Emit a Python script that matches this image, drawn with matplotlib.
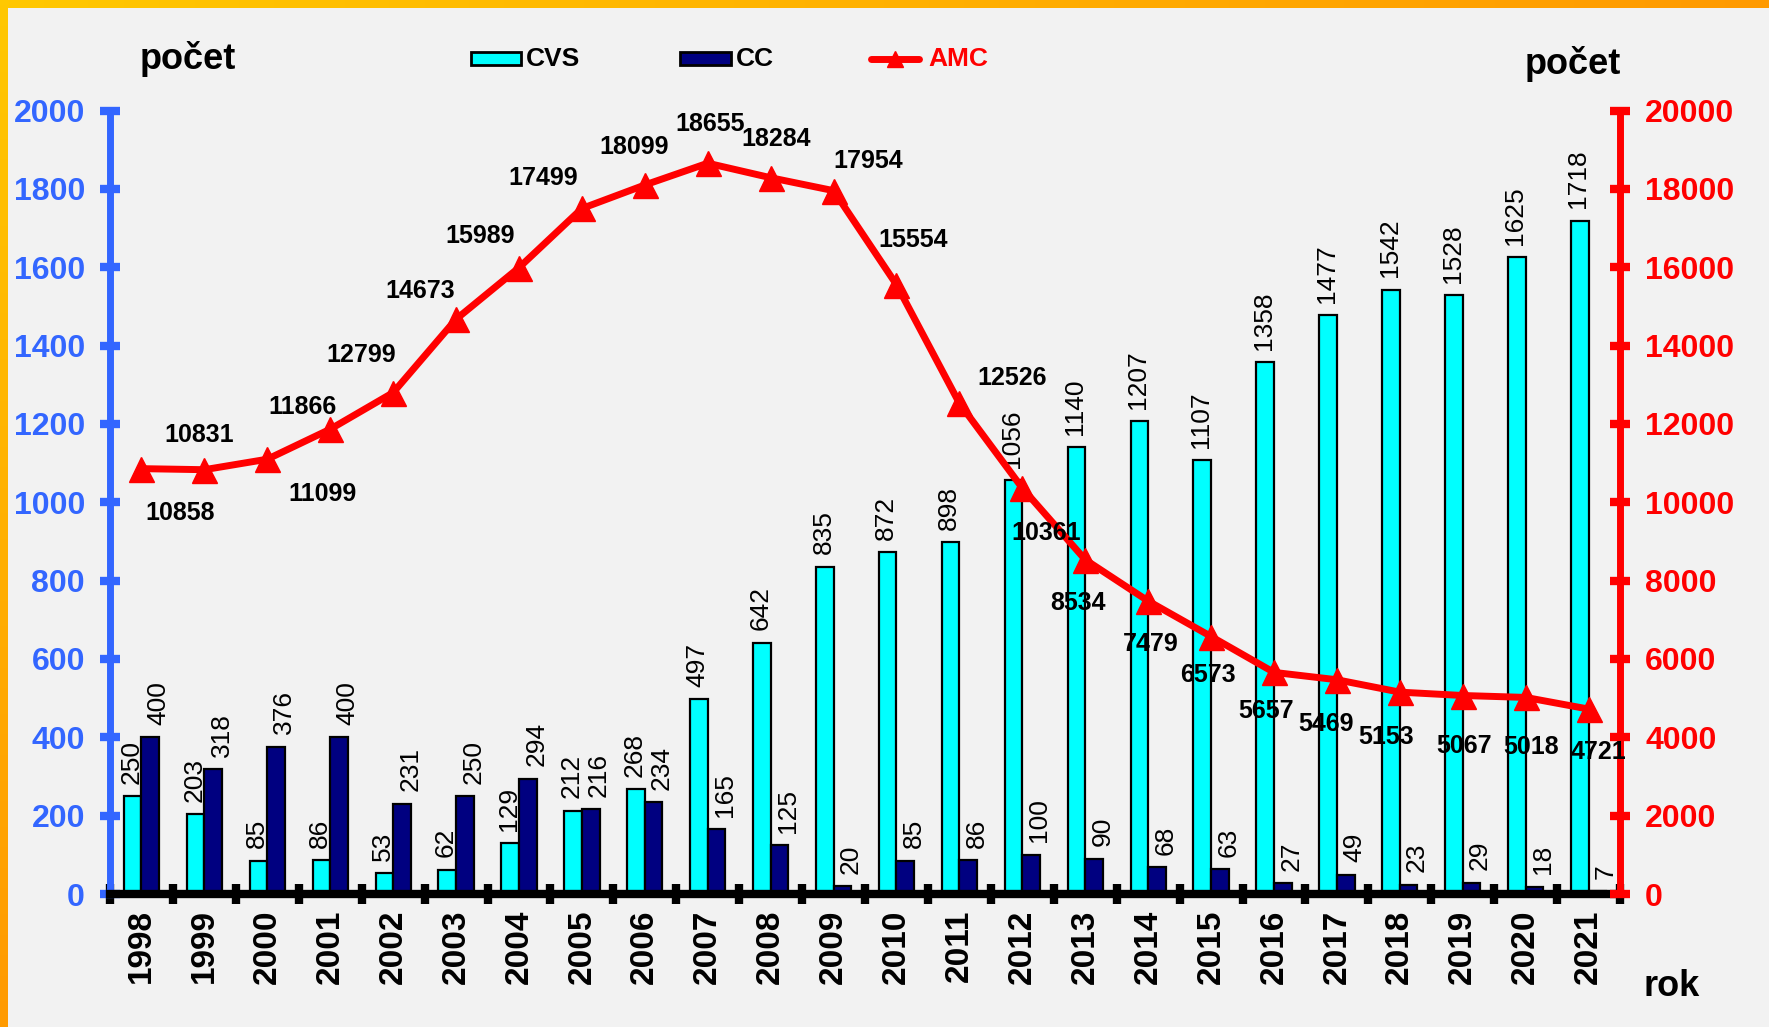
import numpy as np
import matplotlib
matplotlib.use("Agg")
import matplotlib.pyplot as plt
from matplotlib.patches import Rectangle
from matplotlib.lines import Line2D

plt.rcParams['font.family'] = ['Liberation Sans', 'DejaVu Sans']

# data
roky = [str(r) for r in range(1998, 2022)]
cvs = [250, 203, 85, 86, 53, 62, 129, 212, 268, 497, 642, 835, 872, 898,
       1056, 1140, 1207, 1107, 1358, 1477, 1542, 1528, 1625, 1718]
cc = [400, 318, 376, 400, 231, 250, 294, 216, 234, 165, 125, 20, 85, 86,
      100, 90, 68, 63, 27, 49, 23, 29, 18, 7]
amc = [10858, 10831, 11099, 11866, 12799, 14673, 15989, 17499, 18099, 18655,
       18284, 17954, 15554, 12526, 10361, 8534, 7479, 6573, 5657, 5469,
       5153, 5067, 5018, 4721]

# label offsets for AMC (points)
amc_off = [(28, -32), (-4, 25), (40, -25), (-20, 16), (-23, 27), (-26, 20),
           (-28, 23), (-28, 22), (-8, 27), (2, 28), (4, 28), (25, 21),
           (12, 32), (38, 18), (17, -32), (-5, -31), (2, -31), (-2, -28),
           (-6, -28), (-8, -32), (-10, -32), (1, -36), (4, -36), (7, -31)]

modra = '#3366FF'
cervena = '#FF0000'
pozadi = '#F2F2F2'

fig = plt.figure(figsize=(17.69, 10.27), dpi=100, facecolor=pozadi)
ax = fig.add_axes([0.0622, 0.1295, 0.8536, 0.7629], facecolor=pozadi)
ax2 = ax.twinx()
ax2.patch.set_visible(False)

x = np.arange(len(roky))
w = 0.28
ax.bar(x - w / 2, cvs, w, color='#00FFFF', edgecolor='black', linewidth=1.6, zorder=3)
ax.bar(x + w / 2, cc, w, color='#000080', edgecolor='black', linewidth=1.6, zorder=3)

for xi, v in zip(x, cvs):
    ax.annotate(str(v), (xi - w / 2, v), xytext=(-1, 9), textcoords='offset points',
                rotation=90, ha='center', va='bottom', fontsize=19, clip_on=False)
for xi, v in zip(x, cc):
    ax.annotate(str(v), (xi + w / 2, v), xytext=(6, 9), textcoords='offset points',
                rotation=90, ha='center', va='bottom', fontsize=19, clip_on=False)

ax2.plot(x, amc, color=cervena, linewidth=5, marker='^', markersize=18, zorder=4)
for xi, v, (dx, dy) in zip(x, amc, amc_off):
    ax2.annotate(str(v), (xi, v), xytext=(dx, dy), textcoords='offset points',
                 ha='center', va='center', fontsize=18, fontweight='bold', zorder=5)

ax.set_xlim(-0.5, len(roky) - 0.5)
ax.set_ylim(0, 2000)
ax2.set_ylim(0, 20000)
ax.set_yticks(range(0, 2001, 200))
ax2.set_yticks(range(0, 20001, 2000))

ax.set_xticks(x)
ax.set_xticklabels(roky, rotation=90, fontsize=24, fontweight='bold')
ax.set_xticks(np.arange(-0.5, len(roky)), minor=True)
ax.tick_params(axis='x', which='major', length=0, pad=11)
ax.tick_params(axis='x', which='minor', direction='inout', length=14, width=6, color='black')

ax.tick_params(axis='y', direction='inout', length=14, width=6, color=modra,
               labelcolor=modra, labelsize=23, pad=11)
for t in ax.get_yticklabels():
    t.set_fontweight('bold')
ax2.tick_params(axis='y', direction='inout', length=14, width=6, color=cervena,
                labelcolor=cervena, labelsize=23, pad=11)
for t in ax2.get_yticklabels():
    t.set_fontweight('bold')

for s in ['top', 'right']:
    ax.spines[s].set_visible(False)
for s in ['top', 'left', 'bottom']:
    ax2.spines[s].set_visible(False)
ax.spines['left'].set_color(modra)
ax.spines['left'].set_linewidth(5)
ax.spines['bottom'].set_color('black')
ax.spines['bottom'].set_linewidth(6)
ax.spines['bottom'].set_zorder(6)
ax2.spines['right'].set_color(cervena)
ax2.spines['right'].set_linewidth(5)

fig.text(0.106, 0.943, 'počet', fontsize=26, fontweight='bold', ha='center', va='center')
fig.text(0.889, 0.938, 'počet', fontsize=26, fontweight='bold', ha='center', va='center')
fig.text(0.945, 0.039, 'rok', fontsize=26, fontweight='bold', ha='center', va='center')

# legend
ly = 1 - 59 / 1027
fig.patches.append(Rectangle((471 / 1769, 1 - 65 / 1027), 50 / 1769, 13 / 1027,
                             facecolor='#00FFFF', edgecolor='black', linewidth=2,
                             transform=fig.transFigure))
fig.text(526 / 1769, ly, 'CVS', fontsize=19, fontweight='bold', va='center')
fig.patches.append(Rectangle((680 / 1769, 1 - 65 / 1027), 51 / 1769, 13 / 1027,
                             facecolor='#000080', edgecolor='black', linewidth=2,
                             transform=fig.transFigure))
fig.text(736 / 1769, ly, 'CC', fontsize=19, fontweight='bold', va='center')
fig.lines.append(Line2D([871 / 1769, 919 / 1769], [ly, ly], color=cervena, linewidth=5,
                        solid_capstyle='round', transform=fig.transFigure))
fig.lines.append(Line2D([895 / 1769], [ly], color=cervena, marker='^', markersize=12,
                        transform=fig.transFigure))
fig.text(928 / 1769, ly, 'AMC', fontsize=19, fontweight='bold', color=cervena, va='center')

# orange frame
top = fig.add_axes([0, 1 - 8 / 1027, 1, 8 / 1027])
top.imshow(np.linspace(0, 1, 200).reshape(1, -1),
           cmap=matplotlib.colors.LinearSegmentedColormap.from_list('t', ['#FFC800', '#FF9A00']),
           aspect='auto')
top.axis('off')
left = fig.add_axes([0, 0, 8 / 1769, 1])
left.imshow(np.linspace(0, 1, 200).reshape(-1, 1),
            cmap=matplotlib.colors.LinearSegmentedColormap.from_list('l', ['#FFC800', '#FF9A00']),
            aspect='auto')
left.axis('off')

fig.savefig('out.png', dpi=100, facecolor=pozadi)
